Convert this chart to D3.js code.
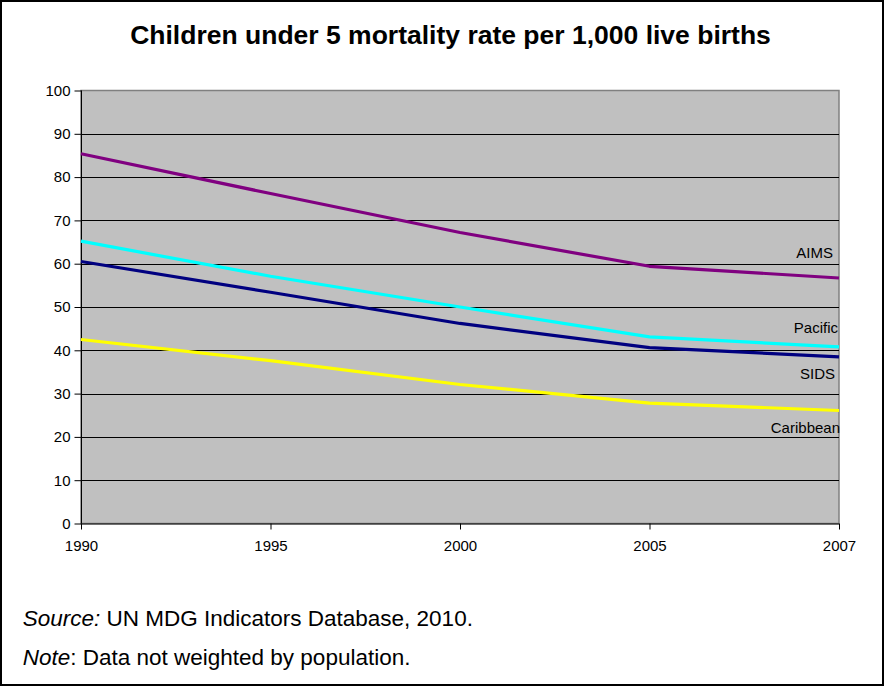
<!DOCTYPE html>
<html>
<head>
<meta charset="utf-8">
<script src="https://cdn.jsdelivr.net/npm/d3@7"></script>
<style>
  html, body { margin: 0; padding: 0; background: #fff; }
  svg { display: block; font-family: Arial, "Liberation Sans", sans-serif; }
</style>
</head>
<body>
<svg id="chart" width="884" height="686"></svg>
<script>
const years = ["1990", "1995", "2000", "2005", "2007"];
const seriesNames = ["AIMS", "Pacific", "SIDS", "Caribbean"];
const aims = [85.4, 76.2, 67.2, 59.4, 56.7];
const pacific = [65.2, 57.1, 50.0, 43.1, 40.8];
const sids = [60.5, 53.4, 46.2, 40.6, 38.5];
const caribbean = [42.5, 37.6, 32.1, 27.8, 26.1];
const seriesColors = ["#800080", "#00FFFF", "#000080", "#FFFF00"];
const yTicks = [0, 10, 20, 30, 40, 50, 60, 70, 80, 90, 100];
const titleText = "Children under 5 mortality rate per 1,000 live births";

const seriesValues = [aims, pacific, sids, caribbean];
const series = seriesNames.map((n, i) => ({ name: n, values: seriesValues[i], color: seriesColors[i] }));

const svg = d3.select("#chart");
const W = 884, H = 686;
const plot = { left: 81, right: 839, top: 90.5, bottom: 523.5 };

// outer frame
svg.append("rect").attr("x", 1).attr("y", 1).attr("width", W - 2).attr("height", H - 2)
  .attr("fill", "#fff").attr("stroke", "#000").attr("stroke-width", 2);

const x = d3.scalePoint().domain(years).range([plot.left, plot.right]);
const y = d3.scaleLinear().domain([0, 100]).range([plot.bottom, plot.top]);

// plot background
svg.append("rect")
  .attr("x", plot.left).attr("y", plot.top)
  .attr("width", plot.right - plot.left).attr("height", plot.bottom - plot.top)
  .attr("fill", "#C0C0C0").attr("stroke", "#808080").attr("stroke-width", 1.5);

// gridlines
svg.append("g").selectAll("line").data(yTicks.filter(t => t > 0 && t < 100)).join("line")
  .attr("x1", plot.left).attr("x2", plot.right)
  .attr("y1", d => Math.round(y(d)) + 0.5).attr("y2", d => Math.round(y(d)) + 0.5)
  .attr("stroke", "#000").attr("stroke-width", 1);

// y axis
const yAxis = svg.append("g").attr("transform", `translate(${plot.left + 0.5},0)`)
  .call(d3.axisLeft(y).tickValues(yTicks).tickSize(7).tickPadding(4));
yAxis.select(".domain").attr("stroke", "#000").attr("d", `M0,${plot.top}V${plot.bottom}`);
yAxis.selectAll(".tick line").attr("stroke", "#000");
yAxis.selectAll(".tick text").attr("font-size", 15).attr("font-family", "Arial, 'Liberation Sans', sans-serif").attr("fill", "#000");

// x axis
const xAxis = svg.append("g").attr("transform", `translate(0,${plot.bottom})`)
  .call(d3.axisBottom(x).tickSize(6).tickPadding(11));
xAxis.select(".domain").attr("stroke", "#000").attr("d", `M${plot.left},0.5H${plot.right}`);
xAxis.selectAll(".tick line").attr("stroke", "#000");
xAxis.selectAll(".tick text").attr("font-size", 15).attr("font-family", "Arial, 'Liberation Sans', sans-serif").attr("fill", "#000");

// lines
const line = d3.line().x((d, i) => x(years[i])).y(d => y(d));
svg.append("g").selectAll("path").data(series).join("path")
  .attr("d", d => line(d.values))
  .attr("fill", "none")
  .attr("stroke", d => d.color)
  .attr("stroke-width", 3.2)
  .attr("stroke-linejoin", "round");

// series labels
const labelPos = { AIMS: [833, 258], Pacific: [838, 333], SIDS: [835, 379], Caribbean: [840, 433] };
svg.append("g").selectAll("text").data(series).join("text")
  .attr("x", d => labelPos[d.name][0]).attr("y", d => labelPos[d.name][1])
  .attr("text-anchor", "end").attr("font-size", 15).attr("fill", "#000")
  .text(d => d.name);

// title
svg.append("text").attr("x", 450.5).attr("y", 44.3).attr("text-anchor", "middle")
  .attr("font-size", 26.5).attr("font-weight", "bold").attr("fill", "#000")
  .text(titleText);

// source & note
const src = svg.append("text").attr("x", 22.7).attr("y", 626).attr("font-size", 22.5).attr("fill", "#000");
src.append("tspan").attr("font-style", "italic").text("Source:");
src.append("tspan").text(" UN MDG Indicators Database, 2010.");
const note = svg.append("text").attr("x", 22.7).attr("y", 665).attr("font-size", 22.5).attr("fill", "#000");
note.append("tspan").attr("font-style", "italic").text("Note");
note.append("tspan").text(": Data not weighted by population.");
</script>
</body>
</html>
